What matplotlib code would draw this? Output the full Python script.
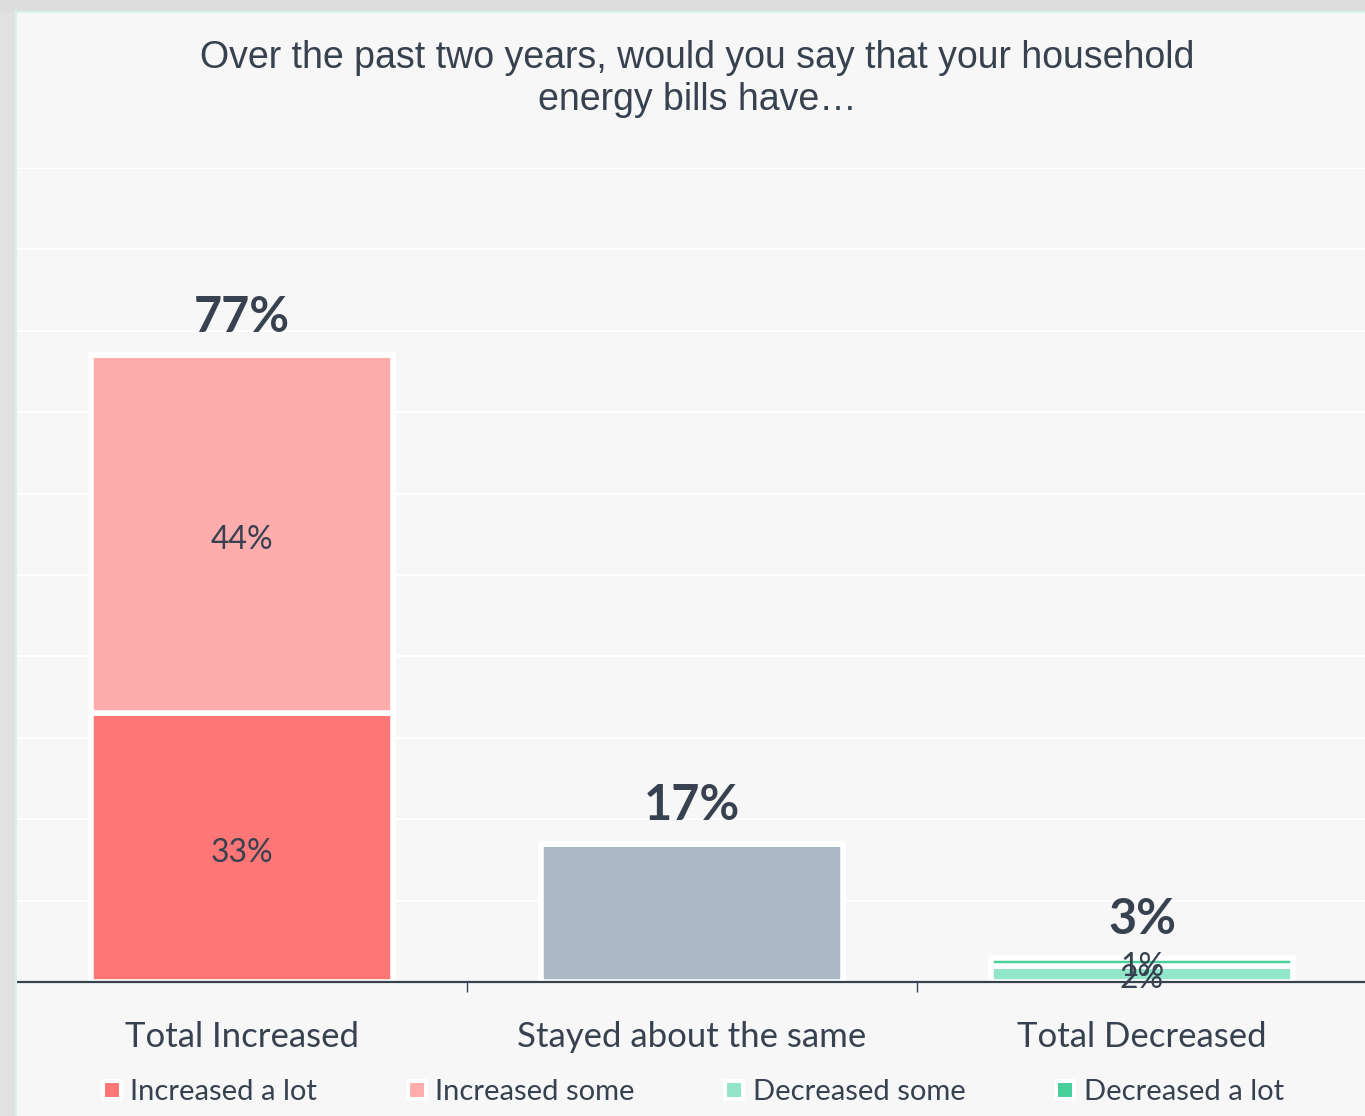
import matplotlib
matplotlib.use("Agg")
import matplotlib.pyplot as plt
from matplotlib.lines import Line2D
from matplotlib.patches import Rectangle
import numpy as np

categories = ["Total Increased", "Stayed about the same", "Total Decreased"]
# each series sits in one category column; zeros elsewhere
increased_a_lot = [33, 0, 0]
increased_some = [44, 0, 0]
stayed_same = [0, 17, 0]
decreased_some = [0, 0, 2]
decreased_a_lot = [0, 0, 1]
totals = [77, 17, 3]

title_lines = ["Over the past two years, would you say that your household",
               "energy bills have…"]

TEXT = "#37414f"
BG = "#f7f7f7"
colors = {
    "Increased a lot": "#ff7676",
    "Increased some": "#ffacac",
    "Stayed about the same": "#acb8c4",
    "Decreased some": "#92e5c9",
    "Decreased a lot": "#48d09a",
}

fig = plt.figure(figsize=(13.65, 11.16), dpi=100, facecolor=BG)

# frame shadow along the top and left edges
fig.patches.append(Rectangle((0, 0), 15 / 1365, 1, transform=fig.transFigure,
                             color="#e1e1e1", zorder=0))
fig.patches.append(Rectangle((0, 1 - 11 / 1116), 1, 11 / 1116, transform=fig.transFigure,
                             color="#dddddd", zorder=0))
fig.lines.append(Line2D([16 / 1365, 16 / 1365], [0, 1 - 11 / 1116], transform=fig.transFigure,
                        color="#d6f2e9", lw=1.5))
fig.lines.append(Line2D([15 / 1365, 1], [1 - 12 / 1116, 1 - 12 / 1116], transform=fig.transFigure,
                        color="#d6f2e9", lw=1.5))

ax = fig.add_axes([17 / 1365, 134 / 1116, 1350 / 1365, 814 / 1116])
ax.set_facecolor(BG)
x = np.arange(len(categories))
w = 0.67

stack = [
    ("Increased a lot", increased_a_lot),
    ("Increased some", increased_some),
    ("Stayed about the same", stayed_same),
    ("Decreased some", decreased_some),
    ("Decreased a lot", decreased_a_lot),
]
bottom = np.zeros(len(categories))
for name, vals in stack:
    vals = np.array(vals, dtype=float)
    ax.bar(x, vals, w, bottom=bottom, color=colors[name],
           edgecolor="white", linewidth=4, zorder=3)
    if name != "Stayed about the same":
        for xi, v, b in zip(x, vals, bottom):
            if v > 0:
                ax.annotate(f"{v:.0f}%", (xi, b + v / 2), xytext=(0, -10.5),
                            textcoords="offset points", ha="center", va="baseline",
                            fontsize=23, family="Lato", color=TEXT, zorder=4)
    bottom += vals

for xi, t in zip(x, totals):
    ax.annotate(f"{t}%", (xi, t), xytext=(0, 17), textcoords="offset points",
                ha="center", va="baseline", fontsize=35, fontweight="bold",
                family="Lato", color=TEXT, zorder=5)

ax.set_xlim(-0.5, 2.5)
ax.set_ylim(0, 100)
ax.set_yticks(np.arange(0, 101, 10))
ax.tick_params(axis="y", length=0, labelleft=False)
ax.grid(axis="y", color="white", lw=1.6, zorder=0)
ax.set_axisbelow(True)
for s in ["left", "right", "top"]:
    ax.spines[s].set_visible(False)
ax.spines["bottom"].set_color(TEXT)
ax.spines["bottom"].set_linewidth(1.6)
ax.spines["bottom"].set_zorder(6)

ax.set_xticks([0.5, 1.5])
ax.tick_params(axis="x", length=7, width=1, color=TEXT, labelbottom=False)
for xi, c in zip(x, categories):
    ax.text(xi, -65 / 814, c, transform=ax.get_xaxis_transform(), ha="center",
            va="baseline", fontsize=25, family="Lato", color=TEXT)

for i, line in enumerate(title_lines):
    fig.text(697 / 1365, 1 - (68 + 42 * i) / 1116, line, ha="center", va="baseline",
             fontsize=27, family="Liberation Sans", color=TEXT)

legend_names = ["Increased a lot", "Increased some", "Decreased some", "Decreased a lot"]
handles = [Line2D([], [], ls="none", marker="s", markersize=13, markerfacecolor=colors[n],
                  markeredgecolor="white", markeredgewidth=2.9) for n in legend_names]
leg = ax.legend(handles, legend_names, loc="center", bbox_to_anchor=(0.5, -0.135),
                ncol=4, frameon=False, handlelength=0.8, handletextpad=0.25,
                columnspacing=3.0, borderaxespad=0, prop={"family": "Lato", "size": 21})
for t in leg.get_texts():
    t.set_color(TEXT)

fig.savefig("out.png", dpi=100, facecolor=BG)
